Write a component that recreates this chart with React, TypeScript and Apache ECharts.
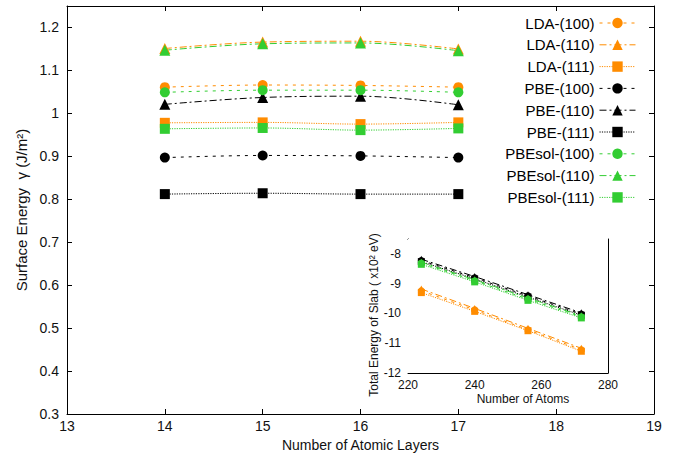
import React, { useEffect, useRef } from "react";
import * as echarts from "echarts";

// Main plot: surface energy vs number of atomic layers
const layers = [14, 15, 16, 17];
const lda100 = [1.061, 1.066, 1.065, 1.061];
const lda110 = [1.151, 1.166, 1.168, 1.150];
const lda111 = [0.978, 0.979, 0.975, 0.979];
const pbe100 = [0.897, 0.902, 0.901, 0.897];
const pbe110 = [1.021, 1.037, 1.040, 1.020];
const pbe111 = [0.812, 0.814, 0.812, 0.812];
const pbesol100 = [1.049, 1.054, 1.054, 1.049];
const pbesol110 = [1.147, 1.162, 1.164, 1.146];
const pbesol111 = [0.964, 0.966, 0.961, 0.965];

// Inset: total energy of slab (x10^2 eV) vs number of atoms
const atoms = [224, 240, 256, 272];
const eLda100 = [-9.24, -9.88, -10.55, -11.22];
const eLda110 = [-9.18, -9.83, -10.50, -11.17];
const eLda111 = [-9.30, -9.93, -10.58, -11.27];
const ePbe100 = [-8.22, -8.80, -9.41, -10.02];
const ePbe110 = [-8.18, -8.76, -9.37, -9.98];
const ePbe111 = [-8.26, -8.84, -9.45, -10.06];
const ePbesol100 = [-8.31, -8.90, -9.52, -10.11];
const ePbesol110 = [-8.28, -8.87, -9.48, -10.08];
const ePbesol111 = [-8.35, -8.94, -9.56, -10.15];

const names = [
  "LDA-(100)", "LDA-(110)", "LDA-(111)",
  "PBE-(100)", "PBE-(110)", "PBE-(111)",
  "PBEsol-(100)", "PBEsol-(110)", "PBEsol-(111)",
];
const mainData = [lda100, lda110, lda111, pbe100, pbe110, pbe111, pbesol100, pbesol110, pbesol111];
const insetData = [eLda100, eLda110, eLda111, ePbe100, ePbe110, ePbe111, ePbesol100, ePbesol110, ePbesol111];

const ORANGE = "#ff8c00";
const GREEN = "#32cd32";
const BLACK = "#000000";
const colors = [ORANGE, ORANGE, ORANGE, BLACK, BLACK, BLACK, GREEN, GREEN, GREEN];
const symbols = ["circle", "triangle", "rect"];
const dashes: number[][] = [[3, 5], [7, 3, 2, 3], [1.2, 1.2]];

const FONT = "Liberation Sans, Arial, Helvetica, sans-serif";

export default function App() {
  const ref = useRef<HTMLDivElement>(null);
  useEffect(() => {
    if (!ref.current) return;
    const chart = echarts.init(ref.current, null, { renderer: "svg" });
    const axisLine = { show: true, lineStyle: { color: "#000", width: 1 } };
    const tick = (len: number) => ({ show: true, inside: true, length: len, lineStyle: { color: "#000" } });
    const label = (size: number) => ({ color: "#111", fontSize: size, fontFamily: FONT });

    const series: any[] = [];
    names.forEach((n, i) => {
      const k = i % 3;
      series.push({
        name: n,
        type: "line",
        xAxisIndex: 0,
        yAxisIndex: 0,
        data: layers.map((x, j) => [x, mainData[i][j]]),
        symbol: symbols[k],
        symbolSize: k === 1 ? 11 : 10,
        smooth: 0.35,
        lineStyle: { color: colors[i], width: 1, type: dashes[k] },
        itemStyle: { color: colors[i] },
        z: 3,
      });
    });
    names.forEach((n, i) => {
      const k = i % 3;
      series.push({
        name: n,
        type: "line",
        xAxisIndex: 2,
        yAxisIndex: 2,
        data: atoms.map((x, j) => [x, insetData[i][j]]),
        symbol: symbols[k],
        symbolSize: 7,
        lineStyle: { color: colors[i], width: 1, type: dashes[k] },
        itemStyle: { color: colors[i] },
        z: 3,
      });
    });

    chart.setOption({
      animation: false,
      backgroundColor: "#fff",
      textStyle: { fontFamily: FONT },
      grid: [
        { left: 67, right: 25, top: 6, bottom: 43, containLabel: false },
        {
          left: 408, right: 71, top: 239, bottom: 84, containLabel: false,
          show: true, backgroundColor: "#fff", borderWidth: 0, z: 2,
        },
      ],
      legend: {
        orient: "vertical",
        right: 38,
        top: 10.5,
        align: "right",
        itemWidth: 36,
        itemHeight: 13,
        itemGap: 6.8,
        data: names,
        lineStyle: { width: 1 },
        textStyle: { color: "#000", fontSize: 15, fontFamily: FONT },
        backgroundColor: "rgba(0,0,0,0)",
      },
      xAxis: [
        {
          type: "value", gridIndex: 0, min: 13, max: 19, interval: 1, position: "bottom",
          name: "Number of Atomic Layers", nameLocation: "middle", nameGap: 22,
          nameTextStyle: { color: "#111", fontSize: 14, fontFamily: FONT },
          axisLine, axisTick: tick(5), axisLabel: { ...label(14), margin: 5 }, splitLine: { show: false },
        },
        {
          type: "value", gridIndex: 0, min: 13, max: 19, interval: 1, position: "top",
          axisLine, axisTick: tick(5), axisLabel: { show: false }, splitLine: { show: false },
        },
        {
          type: "value", gridIndex: 1, min: 220, max: 280, interval: 20, position: "bottom",
          name: "Number of Atoms", nameLocation: "middle", nameGap: 20,
          nameTextStyle: { color: "#111", fontSize: 12, fontFamily: FONT, padding: [0, 0, 0, 30] },
          axisLine, axisTick: tick(5), axisLabel: { ...label(12), margin: 6 }, splitLine: { show: false },
        },
        {
          type: "value", gridIndex: 1, min: 220, max: 280, interval: 20, position: "top",
          axisLine, axisTick: tick(5), axisLabel: { show: false }, splitLine: { show: false },
        },
      ],
      yAxis: [
        {
          type: "value", gridIndex: 0, min: 0.3, max: 1.25, interval: 0.1, position: "left",
          name: "Surface Energy  γ (J/m²)", nameLocation: "middle", nameGap: 36,
          nameTextStyle: { color: "#111", fontSize: 15, fontFamily: FONT },
          axisLine, axisTick: tick(5), axisLabel: { ...label(14), margin: 8, showMaxLabel: false },
          splitLine: { show: false },
        },
        {
          type: "value", gridIndex: 0, min: 0.3, max: 1.25, interval: 0.1, position: "right",
          axisLine, axisTick: tick(5), axisLabel: { show: false }, splitLine: { show: false },
        },
        {
          type: "value", gridIndex: 1, min: -12, max: -7.5, interval: 1, position: "left",
          name: "Total Energy of Slab ( x10² eV)", nameLocation: "middle", nameGap: 25,
          nameTextStyle: { color: "#111", fontSize: 12, fontFamily: FONT, padding: [0, 18, 0, 0] },
          axisLine, axisTick: tick(5), axisLabel: { ...label(12), margin: 7, showMaxLabel: false },
          splitLine: { show: false },
        },
        {
          type: "value", gridIndex: 1, min: -12, max: -7.5, interval: 1, position: "right",
          axisLine, axisTick: tick(5), axisLabel: { show: false }, splitLine: { show: false },
        },
      ],
      series,
    });
    return () => chart.dispose();
  }, []);
  return <div ref={ref} style={{ width: 679, height: 457, position: "absolute", left: 0, top: 0 }} />;
}
